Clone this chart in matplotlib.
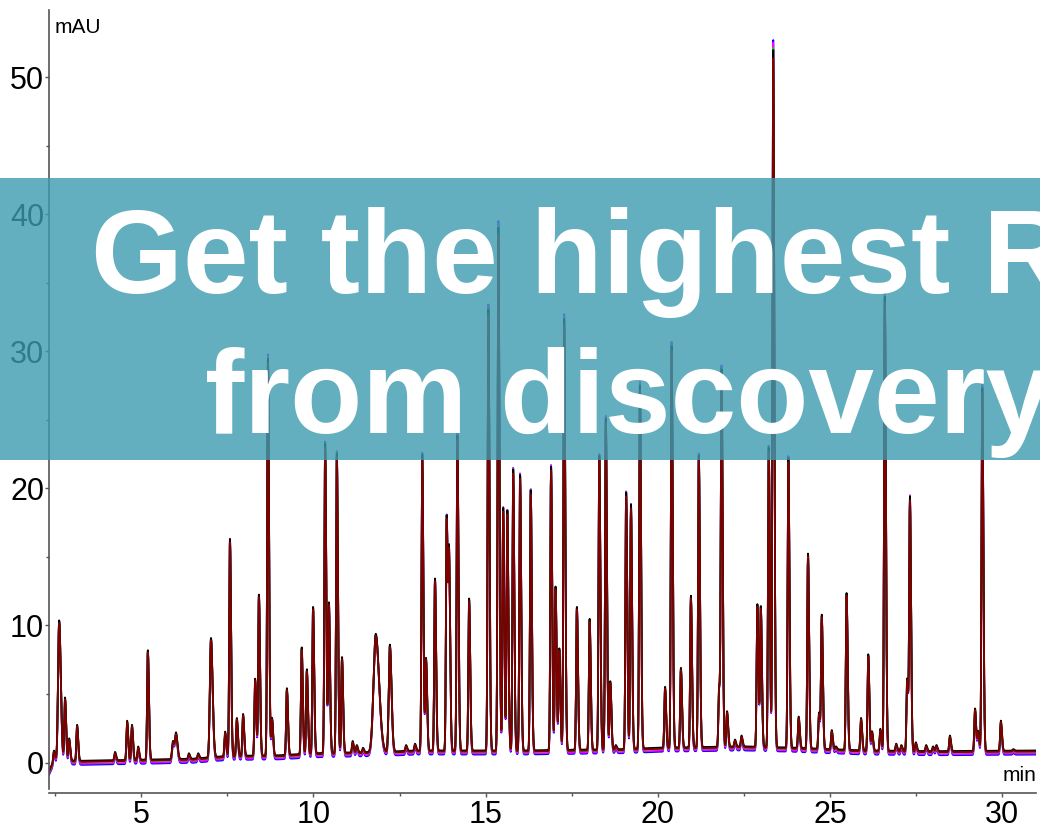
import matplotlib
matplotlib.use("Agg")
import matplotlib.pyplot as plt
import numpy as np
from matplotlib.patches import Rectangle
from matplotlib.ticker import MultipleLocator

plt.rcParams["font.family"] = ["Liberation Sans", "DejaVu Sans"]

# peak apex times (min) and apex heights (mAU)
peak_t = [2.468, 2.618, 2.789, 2.909, 3.139, 4.241, 4.592, 4.732, 4.912, 5.193,
          5.924, 6.014, 6.385, 6.655, 7.026, 7.437, 7.577, 7.777, 7.958, 8.308,
          8.418, 8.679, 8.799, 9.23, 9.66, 9.81, 9.99, 10.34, 10.45, 10.68,
          10.83, 11.14, 11.26, 11.44, 11.81, 12.22, 12.69, 12.95, 13.16, 13.27,
          13.53, 13.87, 13.94, 14.18, 14.52, 15.08, 15.37, 15.51, 15.63, 15.80,
          16.00, 16.31, 16.90, 17.03, 17.14, 17.28, 17.65, 18.02, 18.30, 18.49,
          18.62, 18.78, 19.08, 19.22, 19.48, 20.21, 20.40, 20.67, 20.96, 21.19,
          21.78, 21.85, 22.01, 22.24, 22.43, 22.89, 22.99, 23.22, 23.35, 23.79,
          24.09, 24.36, 24.68, 24.76, 25.05, 25.17, 25.48, 25.90, 26.11, 26.22,
          26.46, 26.59, 26.92, 27.07, 27.24, 27.32, 27.49, 27.79, 27.99, 28.09,
          28.48, 29.21, 29.30, 29.42, 29.96, 30.32]
peak_top = [0.8, 10.4, 4.7, 1.7, 2.7, 0.7, 3.0, 2.7, 1.1, 8.2,
            1.5, 2.0, 0.6, 0.6, 9.1, 2.2, 16.4, 3.2, 3.5, 6.1,
            12.3, 29.7, 3.2, 5.4, 8.4, 6.8, 11.4, 23.4, 11.7, 22.7,
            7.7, 1.5, 1.2, 1.0, 9.4, 8.6, 1.2, 1.3, 22.6, 7.6,
            13.5, 18.1, 14.3, 24.0, 12.0, 33.3, 39.4, 18.7, 18.5, 21.5,
            21.1, 20.0, 21.7, 12.9, 8.3, 32.6, 11.4, 10.5, 22.5, 25.3,
            5.9, 1.2, 19.8, 18.9, 27.7, 5.5, 30.6, 6.9, 12.2, 22.6,
            5.5, 28.6, 3.7, 1.6, 1.9, 11.6, 11.4, 23.1, 52.5, 22.4,
            3.3, 15.3, 3.6, 10.7, 2.3, 1.1, 12.4, 3.2, 7.9, 2.2,
            2.4, 34.3, 1.3, 1.2, 6.1, 19.3, 1.4, 1.2, 1.1, 1.2,
            1.9, 3.9, 2.2, 27.5, 3.0, 0.9]
# wider peaks (min, gaussian sigma); all others use the default
wide_t = [2.618, 7.026, 5.924, 6.014, 11.81, 12.22]
wide_w = [0.032, 0.032, 0.028, 0.028, 0.065, 0.032]
default_w = 0.021

# baseline drift
base_t = [2.32, 2.45, 2.6, 3.3, 5.5, 6.5, 7.5, 9.0, 10.0, 12.0, 13.0, 16.0,
          19.0, 20.0, 22.5, 24.0, 26.0, 28.0, 31.0]
base_y = [-0.7, 0.0, 0.1, 0.05, 0.15, 0.2, 0.4, 0.45, 0.6, 0.7, 0.8, 0.8,
          0.9, 1.0, 1.1, 1.0, 0.8, 0.75, 0.8]

# detector channels: colour, peak scale, baseline offset
chan_color = ["#0000ff", "#ff00ff", "#00e000", "#000000", "#800000"]
chan_scale = [1.01, 1.005, 0.995, 0.99, 0.98]
chan_offset = [-0.22, -0.14, -0.02, 0.08, 0.0]

t = np.arange(2.32, 31.0, 0.004)
baseline = np.interp(t, base_t, base_y)
peaks = np.zeros_like(t)
for pt, ph in zip(peak_t, peak_top):
    w = default_w
    for wt, ww in zip(wide_t, wide_w):
        if abs(wt - pt) < 1e-6:
            w = ww
    amp = ph - np.interp(pt, base_t, base_y)
    sig = np.where(t < pt, w, w * 1.5)
    peaks += amp * np.exp(-0.5 * ((t - pt) / sig) ** 2)

fig = plt.figure(figsize=(10.4, 8.32), dpi=100)
ax = fig.add_axes([49 / 1040, 1 - 789 / 832, 987 / 1040, 779 / 832])

for c, s, o in zip(chan_color, chan_scale, chan_offset):
    ax.plot(t, baseline + o + s * peaks, color=c, lw=1.3)

ax.set_xlim(2.323, 30.98)
ax.set_ylim(-1.93, 54.89)
ax.spines["top"].set_visible(False)
ax.spines["right"].set_visible(False)
ax.spines["bottom"].set_position(("outward", 3))
for sp in ["left", "bottom"]:
    ax.spines[sp].set_color("#555555")
    ax.spines[sp].set_linewidth(1.2)

ax.xaxis.set_major_locator(MultipleLocator(5))
ax.xaxis.set_minor_locator(MultipleLocator(2.5))
ax.yaxis.set_major_locator(MultipleLocator(10))
ax.yaxis.set_minor_locator(MultipleLocator(5))
ax.tick_params(which="major", length=3, width=1, color="#555555", labelsize=22)
ax.tick_params(which="minor", length=2, width=1, color="#555555")
ax.tick_params(axis="x", pad=2)
ax.tick_params(axis="y", pad=0.5)

ax.text(0.006, 0.99, "mAU", transform=ax.transAxes, fontsize=15,
        ha="left", va="top")
ax.text(1.0, 0.005, "min", transform=ax.transAxes, fontsize=15,
        ha="right", va="bottom")

# banner over the chart
fig.patches.append(Rectangle((0, 1 - 460 / 832), 1, 282 / 832,
                             transform=fig.transFigure, facecolor="#3c9baf",
                             alpha=0.8, edgecolor="none", zorder=5))
fig.text(91 / 1040, 1 - 293 / 832, "Get the highest Resolution", color="white",
         fontsize=85, fontweight="bold", ha="left", va="baseline", zorder=6)
fig.text(205 / 1040, 1 - 433 / 832, "from discovery to QC", color="white",
         fontsize=85, fontweight="bold", ha="left", va="baseline", zorder=6)

fig.savefig("out.png", dpi=100)
